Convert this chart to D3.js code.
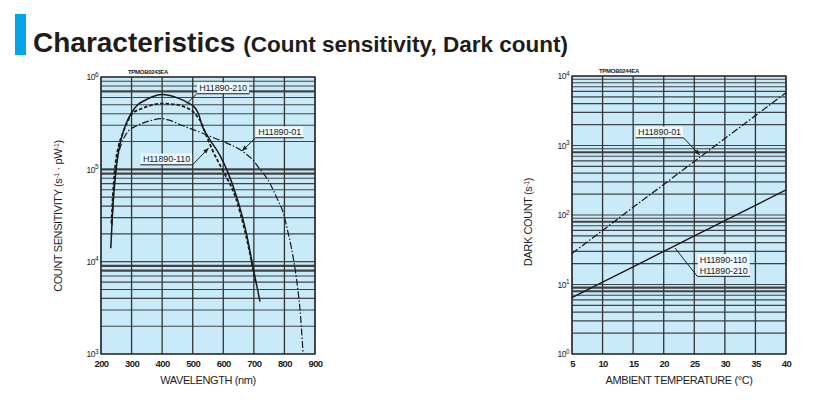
<!DOCTYPE html>
<html><head><meta charset="utf-8">
<script src="https://cdn.jsdelivr.net/npm/d3@7"></script>
<style>
body{margin:0;background:#fff;}
svg{display:block;font-family:"Liberation Sans",Arial,sans-serif;}
</style></head>
<body><svg id="c" width="827" height="400"></svg>
<script>
// ---------- DATA ----------
// Left chart: count sensitivity (s^-1 pW^-1) vs wavelength (nm)
const wlTicks = [200,300,400,500,600,700,800,900];
const sensDecades = [1e3,1e4,1e5,1e6];
const s210 = [[232,14000],[238,35000],[246,77000],[255,140000],[268,226000],[285,330000],[300,410000],[320,500000],[344,560000],[370,615000],[398,645000],[425,630000],[452,590000],[485,525000],[508,462000],[520,390000],[530,300000],[545,240000],[560,200000],[590,140000],[612,98000],[644,50000],[676,20000],[697,8800],[720,3700]];
const s110 = [[234,26000],[240,60000],[248,120000],[258,180000],[270,240000],[289,340000],[300,395000],[330,450000],[360,490000],[400,515000],[440,505000],[480,465000],[500,425000],[513,380000],[524,340000],[546,226000],[565,160000],[598,98000],[640,50000],[670,22000],[690,11000],[705,6000]];
const s01 = [[236,25000],[242,60000],[250,110000],[260,160000],[272,209000],[288,257000],[321,300000],[360,335000],[398,355000],[430,335000],[464,300000],[518,257000],[560,225000],[600,200000],[665,155000],[697,126000],[720,100000],[745,78000],[763,60000],[780,45000],[796,34000],[810,22000],[824,13500],[840,6300],[851,3000],[861,1020]];
// Right chart: dark count (s^-1) vs ambient temperature (deg C)
const tempTicks = [5,10,15,20,25,30,35,40];
const darkDecades = [1,10,100,1000,10000];
const d01 = [[5,28],[10,60],[15,129],[20,275],[25,590],[30,1260],[35,2690],[40,5750]];
const d110 = [[5,6.5],[10,10.8],[15,18],[20,30],[25,50],[30,83],[35,138],[40,229]];
const seriesNames = ["H11890-210","H11890-110","H11890-01"];

// ---------- DRAW ----------
const svg = d3.select("#c");
const ink = "#1c1c1c";

// title
svg.append("rect").attr("x",15).attr("y",14).attr("width",11).attr("height",41).attr("fill","#00a6e8");
const title = svg.append("text").attr("x",33).attr("y",52).attr("fill","#1f1c1c").attr("font-weight","bold");
title.append("tspan").attr("font-size",28).text("Characteristics");
title.append("tspan").attr("font-size",22.5).attr("dx",8).text("(Count sensitivity, Dark count)");

function supLabel(sel, d){
  const e = Math.round(Math.log10(d));
  sel.text(null);
  sel.append("tspan").text("10");
  sel.append("tspan").attr("dy",-3.5).attr("font-size",6.5).text(e);
}

function panel(opt){
  const g = svg.append("g");
  const x = opt.x, y = opt.y;
  const [x0,x1] = x.range(), [y0,y1] = y.range();
  g.append("rect").attr("x",x0).attr("y",y1).attr("width",x1-x0).attr("height",y0-y1).attr("fill","#c9eaf8");
  const [lo,hi] = y.domain();
  const minor = [];
  for(let dec=lo; dec<hi; dec*=10){ for(let m=1;m<10;m++) minor.push(dec*m); }
  minor.push(hi);
  g.append("g").selectAll("line").data(minor).join("line")
    .attr("x1",x0).attr("x2",x1).attr("y1",d=>y(d)).attr("y2",d=>y(d))
    .attr("stroke","#333").attr("stroke-width",d=>opt.thick.includes(+d.toPrecision(2))?2.2:1.1).attr("opacity",0.9);
  g.append("g").selectAll("line").data(opt.xTicks).join("line")
    .attr("x1",d=>x(d)).attr("x2",d=>x(d)).attr("y1",y0).attr("y2",y1)
    .attr("stroke","#333").attr("stroke-width",1.3);
  g.append("rect").attr("x",x0).attr("y",y1).attr("width",x1-x0).attr("height",y0-y1).attr("fill","none").attr("stroke","#333").attr("stroke-width",1.4);

  const ax = g.append("g").attr("transform",`translate(0,${y0})`)
    .call(d3.axisBottom(x).tickValues(opt.xTicks).tickSize(0).tickPadding(6).tickFormat(d3.format("d")));
  ax.select(".domain").remove();
  ax.selectAll("text").attr("font-size",9.5).attr("fill",ink).attr("font-weight","bold").attr("letter-spacing",-0.6);
  const ay = g.append("g").attr("transform",`translate(${x0},0)`)
    .call(d3.axisLeft(y).tickValues(opt.yTicks).tickSize(0).tickPadding(3));
  ay.select(".domain").remove();
  ay.selectAll("text").attr("font-size",8.5).attr("fill",ink).attr("letter-spacing",-0.5).each(function(d){supLabel(d3.select(this),d);});

  g.append("text").attr("x",(x0+x1)/2).attr("y",y0+30).attr("text-anchor","middle")
    .attr("font-size",11).attr("fill",ink).attr("letter-spacing",-0.4).text(opt.xTitle);
  const yt = g.append("text").attr("transform",`translate(${opt.yTitleX},${opt.yTitleY}) rotate(-90)`)
    .attr("text-anchor","middle").attr("font-size",11).attr("fill",ink).attr("letter-spacing",-0.4);
  opt.yTitle(yt);
  g.append("text").attr("x",x0+27).attr("y",y1-3).attr("font-size",6).attr("font-weight","bold").attr("fill",ink).attr("letter-spacing",-0.3).text(opt.code);

  const line = d3.line().x(d=>x(d[0])).y(d=>y(d[1])).curve(d3.curveMonotoneX);
  opt.series.forEach(s=>{
    g.append("path").datum(s.data).attr("d",line).attr("fill","none")
      .attr("stroke","#1a1a1a").attr("stroke-width",s.w).attr("stroke-dasharray",s.dash);
  });
  return g;
}

// label: lines of text at (tx,ty) baseline; underline below; leader from underline end 'side' to target point
function label(g, lines, tx, ty, side, tgt, arrow){
  const lh = 11;
  const grp = g.append("g");
  const bg = grp.append("rect").attr("fill","#eef9fd");
  const ts = lines.map((t,i)=>grp.append("text").attr("x",tx).attr("y",ty+i*lh).attr("font-size",9).attr("fill",ink).attr("letter-spacing",-0.1).text(t));
  const w = d3.max(ts,t=>t.node().getComputedTextLength());
  bg.attr("x",tx-2).attr("y",ty-8.5).attr("width",w+4).attr("height",lh*(lines.length-1)+11);
  const uy = ty + lh*(lines.length-1) + 2.8;
  const ux0 = tx-2.5, ux1 = tx+w+2.5;
  grp.append("line").attr("x1",ux0).attr("x2",ux1).attr("y1",uy).attr("y2",uy).attr("stroke",ink).attr("stroke-width",1);
  const sx = side==="left"?ux0:ux1;
  grp.append("line").attr("x1",sx).attr("y1",uy).attr("x2",tgt[0]).attr("y2",tgt[1]).attr("stroke",ink).attr("stroke-width",1);
  if(arrow){
    const ang = Math.atan2(tgt[1]-uy, tgt[0]-sx);
    const L=5.5, W=2.2, px=tgt[0], py=tgt[1];
    const bx=px-L*Math.cos(ang), by=py-L*Math.sin(ang);
    grp.append("path").attr("d",`M${px},${py}L${bx+W*Math.sin(ang)},${by-W*Math.cos(ang)}L${bx-W*Math.sin(ang)},${by+W*Math.cos(ang)}Z`).attr("fill",ink);
  }
}

// Left panel
const xL = d3.scaleLinear().domain([200,900]).range([101,315]);
const yL = d3.scaleLog().domain([1e3,1e6]).range([354,77]);
const gL = panel({x:xL,y:yL,xTicks:wlTicks,yTicks:sensDecades,thick:[700000,100000,90000,8000,9000],
  xTitle:"WAVELENGTH (nm)", code:"TPMOB0243EA", yTitleX:62, yTitleY:216,
  yTitle:t=>{t.append("tspan").text("COUNT SENSITIVITY (s");t.append("tspan").attr("dy",-3.5).attr("font-size",7).text("-1");
    t.append("tspan").attr("dy",3.5).text(" · pW");t.append("tspan").attr("dy",-3.5).attr("font-size",7).text("-1");t.append("tspan").attr("dy",3.5).text(")");},
  series:[{data:s210,w:1.5,dash:null},{data:s110,w:1.8,dash:"3.5,2"},{data:s01,w:1.2,dash:"7,2,1.5,2"}]});
label(gL,[seriesNames[0]],xL(521),yL(706000),"left",[xL(481),yL(515000)],false);
label(gL,[seriesNames[2]],xL(714),yL(235600),"left",[xL(661),yL(158000)],true);
label(gL,[seriesNames[1]],xL(337),yL(120000),"right",[xL(552),yL(170000)],true);

// Right panel
const xR = d3.scaleLinear().domain([5,40]).range([572,786]);
const yR = d3.scaleLog().domain([1,1e4]).range([354,76]);
const gR = panel({x:xR,y:yR,xTicks:tempTicks,yTicks:darkDecades,thick:[800,80,9,8],
  xTitle:"AMBIENT TEMPERATURE (°C)", code:"TPMOB0244EA", yTitleX:532, yTitleY:222,
  yTitle:t=>{t.append("tspan").text("DARK COUNT (s");t.append("tspan").attr("dy",-3.5).attr("font-size",7).text("-1");t.append("tspan").attr("dy",3.5).text(")");},
  series:[{data:d01,w:1.3,dash:"7,2,1.5,2"},{data:d110,w:1.4,dash:null}]});
label(gR,[seriesNames[2]],xR(15.8),yR(1416),"right",[xR(25.9),yR(730)],true);
label(gR,[seriesNames[1],seriesNames[0]],xR(25.9),yR(20.7),"left",[xR(21.85),yR(33.5)],false);
</script></body></html>
